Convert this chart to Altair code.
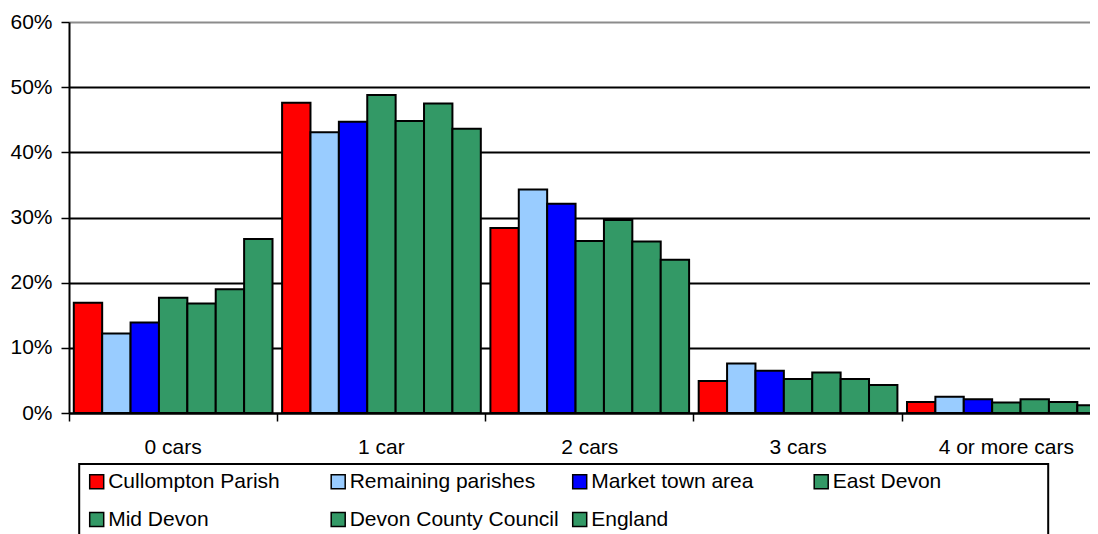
import altair as alt
import pandas as pd

categories = ["0 cars", "1 car", "2 cars", "3 cars", "4 or more cars"]
series = ["Cullompton Parish", "Remaining parishes", "Market town area", "East Devon",
          "Mid Devon", "Devon County Council", "England"]
colors = ["#FF0000", "#99CCFF", "#0000FF", "#339966", "#339966", "#339966", "#339966"]

cullompton = [16.9, 47.6, 28.4, 4.9, 1.7]
remaining = [12.2, 43.1, 34.3, 7.6, 2.5]
market_town = [13.9, 44.7, 32.1, 6.5, 2.1]
east_devon = [17.7, 48.8, 26.4, 5.2, 1.6]
mid_devon = [16.8, 44.8, 29.6, 6.2, 2.1]
devon_cc = [19.0, 47.5, 26.3, 5.2, 1.7]
england = [26.7, 43.6, 23.5, 4.3, 1.2]

y_ticks = [0, 0.1, 0.2, 0.3, 0.4, 0.5, 0.6]

all_values = [cullompton, remaining, market_town, east_devon, mid_devon, devon_cc, england]
rows = []
for s, vals in zip(series, all_values):
    for c, v in zip(categories, vals):
        rows.append({"category": c, "series": s, "value": v / 100.0})
df = pd.DataFrame(rows)

FONT = "Liberation Sans"

xscale = alt.Scale(paddingInner=0.046, paddingOuter=0.023)

# pad the last legend column (non-trimmed) so the legend box spans like the reference
last_label_expr = ("datum.label == 'East Devon' ? 'East Devon' + '" + "\u00a0" * 17
                   + "\u200b' : datum.label")

bars = alt.Chart(df).mark_bar(stroke="black", strokeWidth=2).encode(
    x=alt.X("category:N", sort=categories, scale=xscale,
            axis=alt.Axis(title=None, labelAngle=0, ticks=False, domain=False, grid=False,
                          labelFontSize=21, labelColor="black", labelPadding=23,
                          labelFont=FONT, orient="bottom")),
    xOffset=alt.XOffset("series:N", sort=series,
                        scale=alt.Scale(paddingInner=0, paddingOuter=0)),
    y=alt.Y("value:Q", scale=alt.Scale(domain=[0, 0.6], nice=False),
            axis=alt.Axis(title=None, format=".0%", values=y_ticks,
                          labelFontSize=21, labelColor="black", labelFont=FONT,
                          labelPadding=9, tickSize=8, tickColor="black", tickWidth=1.5,
                          domainColor="black", domainWidth=2,
                          grid=True,
                          gridColor=alt.condition("datum.value > 0.55", alt.value("#8c8c8c"), alt.value("black")),
                          gridWidth=2)),
    fill=alt.Fill("series:N", sort=series,
                  scale=alt.Scale(domain=series, range=colors),
                  legend=alt.Legend(title=None, orient="none", legendX=10.2, legendY=442,
                                    direction="horizontal", columns=4, gridAlign="all",
                                    columnPadding=10.5, rowPadding=16, padding=7,
                                    strokeColor="black",
                                    symbolType="square", symbolSize=196,
                                    symbolStrokeColor="black", symbolStrokeWidth=1.5,
                                    symbolOffset=0, labelOffset=1,
                                    labelFontSize=21, labelColor="black", labelFont=FONT,
                                    labelLimit=0, labelExpr=last_label_expr)),
)

tick_layer = alt.Chart(df).mark_point(opacity=0).encode(
    x=alt.X("category:N", sort=categories, scale=xscale,
            axis=alt.Axis(title=None, labels=False, ticks=True, bandPosition=-0.024,
                          tickSize=8, tickColor="black", tickWidth=1.5,
                          domain=True, domainColor="black", domainWidth=2,
                          grid=False, orient="bottom")),
)

chart = alt.layer(bars, tick_layer).resolve_axis(x="independent").properties(
    width=1041.5,
    height=391,
    autosize=alt.AutoSizeParams(type="none"),
    padding={"left": 61, "top": 14, "right": -20.5, "bottom": 121},
).configure(font=FONT).configure_view(stroke=None).configure_legend(strokeWidth=2)

chart.save("out.html", embed_options={"renderer": "svg", "actions": False})
